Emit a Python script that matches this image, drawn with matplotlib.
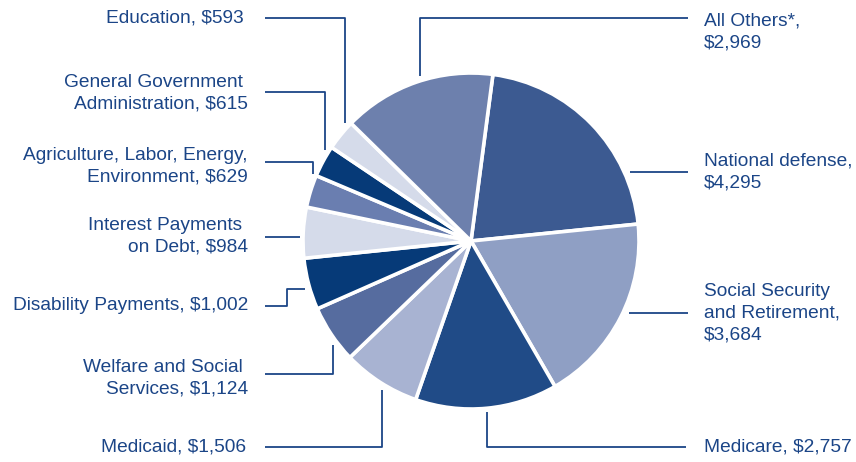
import matplotlib.pyplot as plt

# Datos (en el orden de las porciones, sentido horario desde arriba)
categorias = ["National defense", "Social Security\nand Retirement", "Medicare", "Medicaid",
              "Welfare and Social \nServices", "Disability Payments", "Interest Payments \non Debt",
              "Agriculture, Labor, Energy,\nEnvironment", "General Government \nAdministration",
              "Education", "All Others*"]
valores = [4295, 3684, 2757, 1506, 1124, 1002, 984, 629, 615, 593, 2969]
etiquetas = ["National defense,\n$4,295", "Social Security\nand Retirement,\n$3,684",
             "Medicare, $2,757", "Medicaid, $1,506", "Welfare and Social \nServices, $1,124",
             "Disability Payments, $1,002", "Interest Payments \non Debt, $984",
             "Agriculture, Labor, Energy,\nEnvironment, $629",
             "General Government \nAdministration, $615", "Education, $593",
             "All Others*,\n$2,969"]
colores = ["#3c5a91", "#8f9fc4", "#204b87", "#a8b3d2", "#566c9f", "#063a78",
           "#d5dbea", "#6a7eb0", "#063a78", "#d5dbea", "#6d80ad"]

AZUL = "#1b4587"
H = 462

fig = plt.figure(figsize=(8.56, 4.62), dpi=100)
ax = fig.add_axes([0, 0, 1, 1])
ax.set_xlim(0, 856)
ax.set_ylim(0, H)
ax.set_aspect("equal")
ax.axis("off")

ax.pie(valores, colors=colores, startangle=82.5, counterclock=False,
       center=(471, H - 241), radius=168,
       wedgeprops=dict(edgecolor="white", linewidth=2.6))
ax.set_xlim(0, 856)
ax.set_ylim(0, H)

# Líneas guía (coordenadas en píxeles, y hacia abajo)
guias = [
    [(630, 172), (688, 172)],
    [(629, 313), (688, 313)],
    [(487, 412), (487, 447), (686, 447)],
    [(382, 390), (382, 447), (265, 447)],
    [(333, 345), (333, 374), (265, 374)],
    [(305, 289), (287, 289), (287, 306), (265, 306)],
    [(300, 237), (265, 237)],
    [(313, 174), (313, 162), (265, 162)],
    [(325, 150), (325, 92), (265, 92)],
    [(345, 123), (345, 18), (265, 18)],
    [(420, 76), (420, 18), (688, 18)],
]
for g in guias:
    xs = [p[0] for p in g]
    ys = [H - p[1] for p in g]
    ax.plot(xs, ys, color=AZUL, lw=1.3, solid_capstyle="butt")

# Posiciones de los textos
pos_texto = [(704, 172, "left"), (704, 313, "left"), (704, 447, "left"),
             (246, 447, "right"), (248, 378, "right"), (248, 306, "right"),
             (248, 236, "right"), (248, 166, "right"), (248, 93, "right"),
             (244, 18, "right"), (704, 32, "left")]
for txt, (x, y, ha) in zip(etiquetas, pos_texto):
    ax.text(x, H - y, txt, ha=ha, va="center", color=AZUL, fontsize=13.8,
            family="Liberation Sans", linespacing=1.38,
            multialignment=ha)

plt.savefig("out.png", dpi=100)
plt.close()
